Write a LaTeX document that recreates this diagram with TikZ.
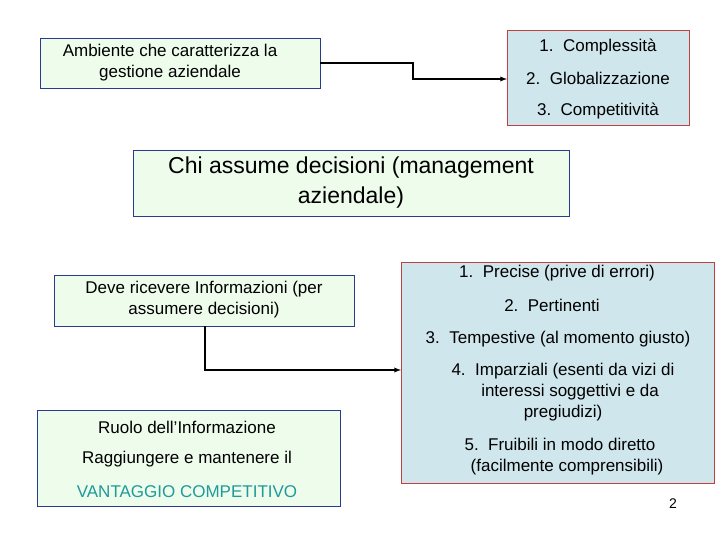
\documentclass[tikz,border=0pt]{standalone}
\usepackage{fontspec}
\setmainfont{Liberation Sans}
\definecolor{gfill}{HTML}{EEFCEC}
\definecolor{bline}{HTML}{2A3A90}
\definecolor{cfill}{HTML}{CFE6EC}
\definecolor{rline}{HTML}{C04040}
\definecolor{teal}{HTML}{1E9A9A}
\begin{document}
\begin{tikzpicture}[x=1pt,y=-1pt,
 gbox/.style={draw=bline,fill=gfill,line width=0.8pt},
 cbox/.style={draw=rline,fill=cfill,line width=0.8pt},
 txt/.style={font=\fontsize{17}{21}\selectfont,align=center},
 conn/.style={-latex,line width=1.3pt}]
\useasboundingbox (0,0) rectangle (720,540);
\fill[white] (0,0) rectangle (720,540);
\draw[gbox] (40,38) rectangle (320,88);
\node[txt] (a) at (170,63) {Ambiente che caratterizza la\\gestione aziendale};
\draw[cbox] (507,30) rectangle (689,125);
\node[txt] (b1) at (598,47) {1.\ \ Complessità};
\node[txt] (b2) at (598,78) {2.\ \ Globalizzazione};
\node[txt] (b3) at (598,111) {3.\ \ Competitività};
\draw[gbox] (133,150) rectangle (569,216);
\node[font=\fontsize{23}{30}\selectfont,align=center] (c) at (351,183) {Chi assume decisioni (management\\aziendale)};
\draw[gbox] (54,275) rectangle (354,326);
\node[txt] (d) at (204,300) {Deve ricevere Informazioni (per\\assumere decisioni)};
\draw[cbox] (401,262) rectangle (714,483);
\node[txt] (e1) at (557,273) {1.\ \ Precise (prive di errori)};
\node[txt] (e2) at (552,305) {2.\ \ Pertinenti};
\node[txt] (e3) at (558,339) {3.\ \ Tempestive (al momento giusto)};
\node[txt] (e4) at (563,392) {4.\ \ Imparziali (esenti da vizi di\\\ \ \ interessi soggettivi e da\\pregiudizi)};
\node[txt] (e5) at (560,457) {5.\ \ Fruibili in modo diretto\\\ \ \ (facilmente comprensibili)};
\draw[gbox] (37,410) rectangle (340,506);
\node[txt] (f1) at (187,427) {Ruolo dell’Informazione};
\node[txt] (f2) at (187,459) {Raggiungere e mantenere il};
\node[txt,text=teal] (f3) at (187,492) {VANTAGGIO COMPETITIVO};
\node[font=\fontsize{14}{16}\selectfont] (p) at (673,504) {2};
\coordinate (s1) at (320,63);
\coordinate (t1) at (507,79);
\draw[conn] (s1) -- (413,63) -- (413,79) -- (t1);
\coordinate (s2) at (205,326);
\coordinate (t2) at (401,370);
\draw[conn] (s2) -- (205,370) -- (t2);
\end{tikzpicture}
\end{document}
